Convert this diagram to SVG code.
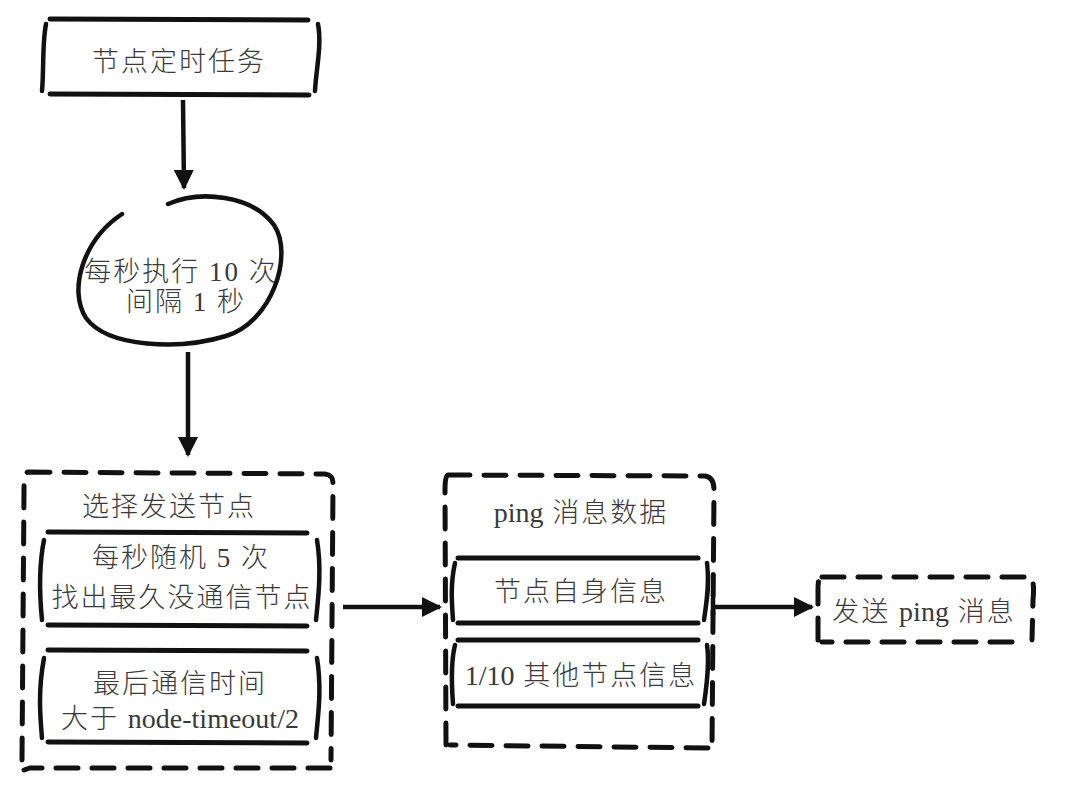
<svg xmlns="http://www.w3.org/2000/svg" width="1080" height="786" viewBox="0 0 1080 786">
<defs>
<style>
.hl{stroke:#111;stroke-width:5;fill:none;stroke-linecap:round}
.br{stroke:#111;stroke-width:4.5;fill:none;stroke-linecap:round}
.ds{stroke:#111;stroke-width:5;fill:none;stroke-dasharray:22 14;stroke-linecap:round}
.cn{stroke:#111;stroke-width:4.5;fill:none}
.t{font-family:"Liberation Serif","Noto Sans CJK SC",serif;font-size:27px;letter-spacing:2px;fill:#3a3a3a;text-anchor:middle;font-weight:300}
.l{letter-spacing:0;font-size:28px}
</style>
<marker id="ah" viewBox="0 0 10 10" refX="9" refY="5" markerWidth="4.5" markerHeight="4.5" orient="auto" markerUnits="strokeWidth">
<path d="M0,0 L10,5 L0,10 z" fill="#111"/>
</marker>
</defs>
<rect width="1080" height="786" fill="#fff"/>

<g id="connectors">
<path class="cn" d="M183,100 L184,188" marker-end="url(#ah)"/>
<path class="cn" d="M188,352 L188,455" marker-end="url(#ah)"/>
<path class="cn" d="M343,607 L440,607" marker-end="url(#ah)"/>
<path class="cn" d="M713,607 L812,607" marker-end="url(#ah)"/>
<path class="cn" d="M713,598 L713,616"/>
</g>

<g id="task">
<path class="hl" d="M50,19 L308,20"/>
<path class="hl" d="M50,94 L309,95"/>
<path class="br" d="M46,24 C42,45 44,70 42,91"/>
<path class="br" d="M318,24 C322,45 316,70 315,91"/>
<text class="t" x="179" y="71">节点定时任务</text>
</g>

<g id="loop">
<path class="br" d="M168,204 C200,190 252,195 274,225 C294,255 272,322 226,336 C180,350 108,348 86,318 C68,290 83,240 122,214"/>
<text class="t" x="181" y="281">每秒执行 10 次</text>
<text class="t" x="186" y="311">间隔 1 秒</text>
</g>

<g id="select">
<path class="ds" d="M28,472 L325,474 C333,475 333,480 333,485 L331,760 M330,768 L30,768 L24,770 M22,760 L24,490 C24,478 26,472 28,472"/>
<text class="t" x="169" y="516">选择发送节点</text>
<path class="hl" d="M48,532 L307,533"/>
<path class="hl" d="M48,625 L307,626"/>
<path class="br" d="M44,540 C38,570 40,600 42,620"/>
<path class="br" d="M317,540 C322,570 318,600 316,620"/>
<text class="t" x="181" y="567">每秒随机 5 次</text>
<text class="t" x="182" y="607">找出最久没通信节点</text>
<path class="hl" d="M48,650 L307,651"/>
<path class="hl" d="M48,742 L307,743"/>
<path class="br" d="M44,658 C38,690 40,715 42,738"/>
<path class="br" d="M317,658 C322,690 318,715 316,738"/>
<text class="t" x="180" y="693">最后通信时间</text>
<text class="t" x="180" y="728">大于 <tspan class="l">node-timeout/2</tspan></text>
</g>

<g id="ping">
<path class="ds" d="M448,475 L705,476 C712,477 714,482 714,490 L712,748 M708,748 L450,745 M446,745 L445,490 C445,480 446,475 448,475"/>
<text class="t" x="581" y="522"><tspan class="l">ping</tspan> 消息数据</text>
<path class="hl" d="M458,558 L698,558"/>
<path class="hl" d="M458,623 L698,623"/>
<path class="br" d="M455,563 C450,585 452,605 453,620"/>
<path class="br" d="M707,563 C710,585 706,605 704,620"/>
<text class="t" x="581" y="601">节点自身信息</text>
<path class="hl" d="M458,640 L698,640"/>
<path class="hl" d="M458,706 L698,706"/>
<path class="br" d="M455,645 C450,665 452,690 453,704"/>
<path class="br" d="M707,645 C710,665 706,690 704,704"/>
<text class="t" x="581" y="685"><tspan class="l">1/10</tspan> 其他节点信息</text>
</g>

<g id="send">
<path class="ds" d="M822,577 L1030,577 C1034,580 1034,590 1033,600 L1032,640 M1012,642 L822,642 M818,640 L818,590 C818,580 819,577 822,577"/>
<text class="t" x="924" y="621">发送 <tspan class="l">ping</tspan> 消息</text>
</g>
</svg>
